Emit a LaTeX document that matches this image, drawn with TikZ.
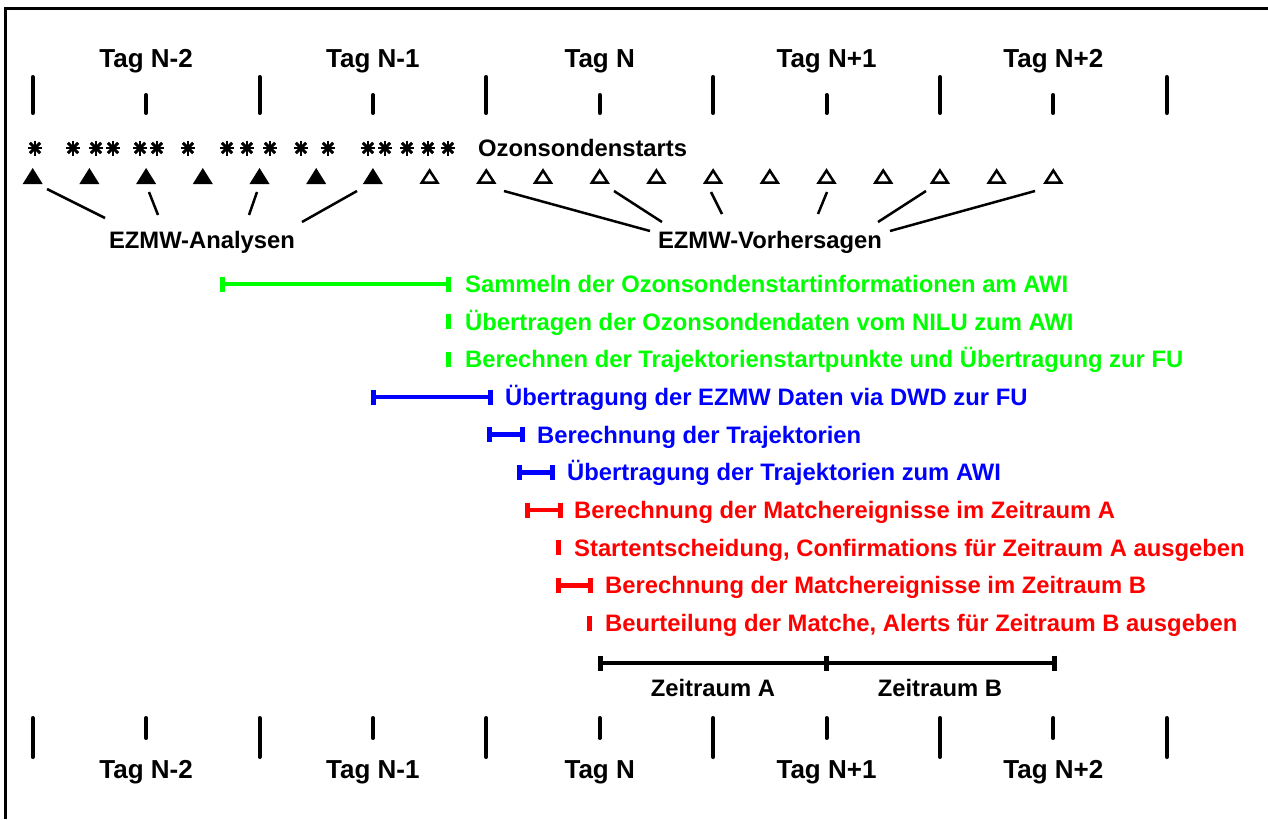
\documentclass[tikz,border=0pt]{standalone}
\usepackage{fontspec}
\setmainfont{Liberation Sans}
\definecolor{grn}{RGB}{0,255,0}
\definecolor{blu}{RGB}{0,0,255}
\definecolor{rd}{RGB}{255,0,0}
\tikzset{
  frame/.style={line width=3pt},
  daytick/.style={line width=4pt, line cap=round},
  daylabel/.style={font=\fontsize{26}{30}\selectfont\bfseries, anchor=base, inner sep=0pt},
  txt/.style={font=\fontsize{23.8}{28}\selectfont\bfseries, inner sep=0pt},
  tasklabel/.style={txt, anchor=base west},
  barline/.style={line width=4.5pt},
  barcap/.style={line width=5pt},
  spoke/.style={line width=2.9pt},
  feeder/.style={line width=2.5pt},
}
% horizontal task bar with end caps: x1, x2, y, colour
\newcommand\taskbar[4]{%
  \draw[barline,#4] (#1,#3) -- (#2,#3);
  \draw[barcap,#4] (#1,#3-7.5) -- (#1,#3+7.5);
  \draw[barcap,#4] (#2,#3-7.5) -- (#2,#3+7.5);}
% single mark (no duration): x, y, colour
\newcommand\taskmark[3]{%
  \draw[barcap,#3] (#1,#2-7.5) -- (#1,#2+7.5);}
% eight-spoke launch marker at x
\newcommand\launch[1]{%
  \draw[spoke] (#1-7,148) -- (#1+7,148);
  \draw[spoke] (#1,140.5) -- (#1,155.5);
  \draw[spoke] (#1-5.2,142.8) -- (#1+5.2,153.2);
  \draw[spoke] (#1-5.2,153.2) -- (#1+5.2,142.8);}
\begin{document}
\begin{tikzpicture}[x=1pt,y=-1pt]
\useasboundingbox (0,0) rectangle (1268,819);
\fill[white] (0,0) rectangle (1268,819);

% frame (left and top edges)
\draw[frame] (5,819) -- (5,8) -- (1268,8);

% day scale, top and bottom
\foreach \k in {0,2,...,10} {
  \draw[daytick] (32.7+113.4*\k,77) -- (32.7+113.4*\k,113);
  \draw[daytick] (32.7+113.4*\k,718) -- (32.7+113.4*\k,757);
}
\foreach \k in {1,3,...,9} {
  \draw[daytick] (32.7+113.4*\k,95) -- (32.7+113.4*\k,113);
  \draw[daytick] (32.7+113.4*\k,718) -- (32.7+113.4*\k,738);
}
\node[daylabel] (t1) at (146.1,67) {Tag N-2};
\node[daylabel] (t2) at (372.9,67) {Tag N-1};
\node[daylabel] (t3) at (599.7,67) {Tag N};
\node[daylabel] (t4) at (826.5,67) {Tag N+1};
\node[daylabel] (t5) at (1053.3,67) {Tag N+2};
\node[daylabel] (b1) at (146.1,778) {Tag N-2};
\node[daylabel] (b2) at (372.9,778) {Tag N-1};
\node[daylabel] (b3) at (599.7,778) {Tag N};
\node[daylabel] (b4) at (826.5,778) {Tag N+1};
\node[daylabel] (b5) at (1053.3,778) {Tag N+2};

% ozone sonde launches
\foreach \x in {35,73,96,113,140,157,188,227,247,270,301,328,368,385,407,428,448}
  {\launch{\x}}
\node[txt, anchor=base west] (oz) at (478,156) {Ozonsondenstarts};

% ECMWF analyses (filled) and forecasts (open)
\foreach \i in {0,...,6}
  \fill (32.7+56.7*\i,168) -- (32.7+56.7*\i+10,184) -- (32.7+56.7*\i-10,184) -- cycle;
\foreach \i in {7,...,18}
  \draw[line width=2.5pt, line join=miter]
    (32.7+56.7*\i,170.5) -- (32.7+56.7*\i+7.8,182.5) -- (32.7+56.7*\i-7.8,182.5) -- cycle;

\node[txt, anchor=base] (ana) at (202,248) {EZMW-Analysen};
\node[txt, anchor=base] (vor) at (770,248) {EZMW-Vorhersagen};

\coordinate (a1) at (47,189);   \coordinate (a1e) at (105,218);
\coordinate (a2) at (149,192);  \coordinate (a2e) at (158,215);
\coordinate (a3) at (257,192);  \coordinate (a3e) at (249,215);
\coordinate (a4) at (357,191);  \coordinate (a4e) at (302,222);
\coordinate (v1) at (504,191);  \coordinate (v1e) at (650,231);
\coordinate (v2) at (614,191);  \coordinate (v2e) at (662,222);
\coordinate (v3) at (711,192);  \coordinate (v3e) at (722,214);
\coordinate (v4) at (827,192);  \coordinate (v4e) at (818,214);
\coordinate (v5) at (926,191);  \coordinate (v5e) at (878,222);
\coordinate (v6) at (1035,191); \coordinate (v6e) at (890,231);
\foreach \p in {a1,a2,a3,a4,v1,v2,v3,v4,v5,v6}
  \draw[feeder] (\p) -- (\p e);

% processing steps
\taskbar{222}{448}{284}{grn}
\node[tasklabel, grn] (s1) at (465,292.5) {Sammeln der Ozonsondenstartinformationen am AWI};
\taskmark{448}{321.7}{grn}
\node[tasklabel, grn] (s2) at (465,330.2) {Übertragen der Ozonsondendaten vom NILU zum AWI};
\taskmark{448}{359.3}{grn}
\node[tasklabel, grn] (s3) at (465,367.8) {Berechnen der Trajektorienstartpunkte und Übertragung zur FU};

\taskbar{373}{490}{397}{blu}
\node[tasklabel, blu] (s4) at (505,405.5) {Übertragung der EZMW Daten via DWD zur FU};
\taskbar{489}{522}{434.7}{blu}
\node[tasklabel, blu] (s5) at (537,443.2) {Berechnung der Trajektorien};
\taskbar{519}{552}{472.3}{blu}
\node[tasklabel, blu] (s6) at (567,480.8) {Übertragung der Trajektorien zum AWI};

\taskbar{527}{560}{510}{rd}
\node[tasklabel, rd] (s7) at (574,518.5) {Berechnung der Matchereignisse im Zeitraum A};
\taskmark{558}{547.7}{rd}
\node[tasklabel, rd] (s8) at (574,556.2) {Startentscheidung, Confirmations für Zeitraum A ausgeben};
\taskbar{558}{590}{585.3}{rd}
\node[tasklabel, rd] (s9) at (605,593.8) {Berechnung der Matchereignisse im Zeitraum B};
\taskmark{589}{623}{rd}
\node[tasklabel, rd] (s10) at (605,631.5) {Beurteilung der Matche, Alerts für Zeitraum B ausgeben};

% evaluation periods
\taskbar{600.5}{826.5}{663}{black}
\taskbar{826.5}{1054.5}{663}{black}
\node[txt, anchor=base] (za) at (713,696) {Zeitraum A};
\node[txt, anchor=base] (zb) at (940,696) {Zeitraum B};
\end{tikzpicture}
\end{document}
